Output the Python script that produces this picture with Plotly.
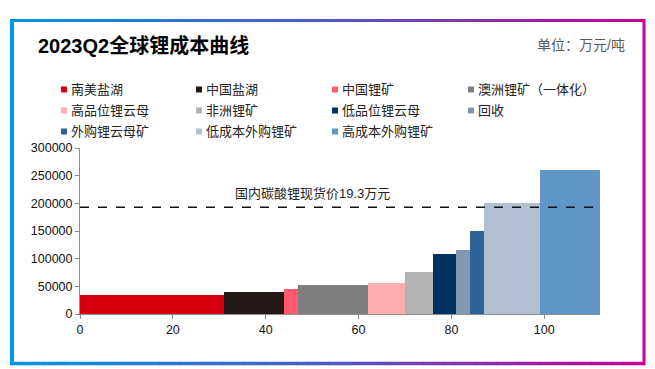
import plotly.graph_objects as go
import numpy as np

# ---- data ----
categories = ["南美盐湖", "中国盐湖", "中国锂矿", "澳洲锂矿（一体化）",
              "高品位锂云母", "非洲锂矿", "低品位锂云母", "回收",
              "外购锂云母矿", "低成本外购锂矿", "高成本外购锂矿"]
capacity = [31, 13, 3, 15, 8, 6, 5, 3, 3, 12, 13]          # bar widths (x units)
cost = [35000, 40000, 45000, 53000, 56000, 76000, 108000, 115000, 150000, 200000, 260000]
colors = ["#d7000f", "#231815", "#ff5a6e", "#7f7f7f", "#ffaeb0", "#b3b3b3",
          "#00315f", "#7f99b2", "#2f6296", "#b0c0d2", "#6095c8"]
spot_price = 193000
x_ticks = [0, 20, 40, 60, 80, 100]
y_ticks = [0, 50000, 100000, 150000, 200000, 250000, 300000]

W, H = 655, 369
L, R, T, B = 80, 55, 148, 55
PW, PH = W - L - R, H - T - B

def px(x):
    return (x - L) / PW

def py(y):
    return (H - B - y) / PH

ends = np.cumsum(capacity)
starts = ends - np.array(capacity)
centers = starts + np.array(capacity) / 2

fig = go.Figure()
for name, c, w, v, col in zip(categories, centers, capacity, cost, colors):
    fig.add_trace(go.Bar(x=[c], y=[v], width=[w], name=name,
                         marker=dict(color=col, line=dict(width=0)),
                         showlegend=False))

shapes = []
annotations = []

# dashed spot-price line
shapes.append(dict(type="line", xref="x", yref="y", x0=0, x1=float(ends[-1]) - 0.5,
                   y0=spot_price, y1=spot_price,
                   line=dict(color="#111111", width=1.6, dash="dash")))
annotations.append(dict(xref="x", yref="y", x=50, y=spot_price, yshift=14,
                        text=f"国内碳酸锂现货价{spot_price/10000:.1f}万元",
                        showarrow=False, font=dict(size=13, color="#222222"),
                        xanchor="center", yanchor="middle"))

# manual legend (4 columns)
col_x = [64, 199, 335, 471]
row_y = [89.5, 110.5, 131.5]
for i, (name, col) in enumerate(zip(categories, colors)):
    cx, cy = col_x[i % 4], row_y[i // 4]
    shapes.append(dict(type="rect", xref="paper", yref="paper",
                       x0=px(cx - 3), x1=px(cx + 3), y0=py(cy + 3), y1=py(cy - 3),
                       fillcolor=col, line=dict(width=0)))
    annotations.append(dict(xref="paper", yref="paper", x=px(cx + 5), y=py(cy),
                            text=name, showarrow=False, xanchor="left", yanchor="middle",
                            font=dict(size=13, color="#222222")))

# title & unit
annotations.append(dict(xref="paper", yref="paper", x=px(36), y=py(45),
                        text="<b>2023Q2全球锂成本曲线</b>", showarrow=False,
                        xanchor="left", yanchor="middle",
                        font=dict(size=20, color="#000000")))
annotations.append(dict(xref="paper", yref="paper", x=px(627), y=py(45),
                        text="单位：万元/吨", showarrow=False,
                        xanchor="right", yanchor="middle",
                        font=dict(size=14, color="#595959")))

# gradient frame
def lerp(c1, c2, t):
    return "#%02x%02x%02x" % tuple(int(round(a + (b - a) * t)) for a, b in zip(c1, c2))

stops = [(0.0, (0, 150, 224)), (0.5, (80, 90, 192)), (1.0, (200, 0, 150))]
def grad(t):
    for (t0, c0), (t1, c1) in zip(stops[:-1], stops[1:]):
        if t <= t1:
            return lerp(c0, c1, (t - t0) / (t1 - t0))
    return lerp(stops[-1][1], stops[-1][1], 0)

fx0, fx1, fy0, fy1 = 12, 644, 20.5, 363.5
nseg = 60
for k in range(nseg):
    a = fx0 + (fx1 - fx0) * k / nseg
    b = fx0 + (fx1 - fx0) * (k + 1) / nseg + 0.6
    colr = grad((k + 0.5) / nseg)
    for yy, lw in ((fy0, 3), (fy1, 3.5)):
        shapes.append(dict(type="line", xref="paper", yref="paper",
                           x0=px(a), x1=px(min(b, fx1)), y0=py(yy), y1=py(yy),
                           line=dict(color=colr, width=lw)))
shapes.append(dict(type="line", xref="paper", yref="paper", x0=px(fx0), x1=px(fx0),
                   y0=py(fy0 - 1.5), y1=py(fy1 + 1.7), line=dict(color=grad(0), width=4)))
shapes.append(dict(type="line", xref="paper", yref="paper", x0=px(fx1), x1=px(fx1),
                   y0=py(fy0 - 1.5), y1=py(fy1 + 1.7), line=dict(color=grad(1), width=3)))

fig.update_layout(
    width=W, height=H,
    margin=dict(l=L, r=R, t=T, b=B),
    paper_bgcolor="white", plot_bgcolor="white",
    font=dict(family="Liberation Sans, Arial, Noto Sans CJK SC, sans-serif", color="#000000"),
    bargap=0, barmode="overlay",
    showlegend=False, hovermode=False,
    shapes=shapes, annotations=annotations,
    xaxis=dict(range=[0, float(ends[-1])], tickvals=x_ticks, showgrid=False, zeroline=False,
               showline=True, linecolor="#8c8c8c", linewidth=1,
               ticks="outside", ticklen=4, tickcolor="#8c8c8c",
               tickfont=dict(size=12.5, color="#111111")),
    yaxis=dict(range=[0, 300000], tickvals=y_ticks, tickformat="d", showgrid=False,
               zeroline=False, showline=True, linecolor="#8c8c8c", linewidth=1,
               ticks="outside", ticklen=4, tickcolor="#8c8c8c",
               tickfont=dict(size=12.5, color="#111111")),
)

fig.write_html("out.html", config={"displayModeBar": False},
               post_script="document.body.style.margin='0';document.body.style.overflow='hidden';")
